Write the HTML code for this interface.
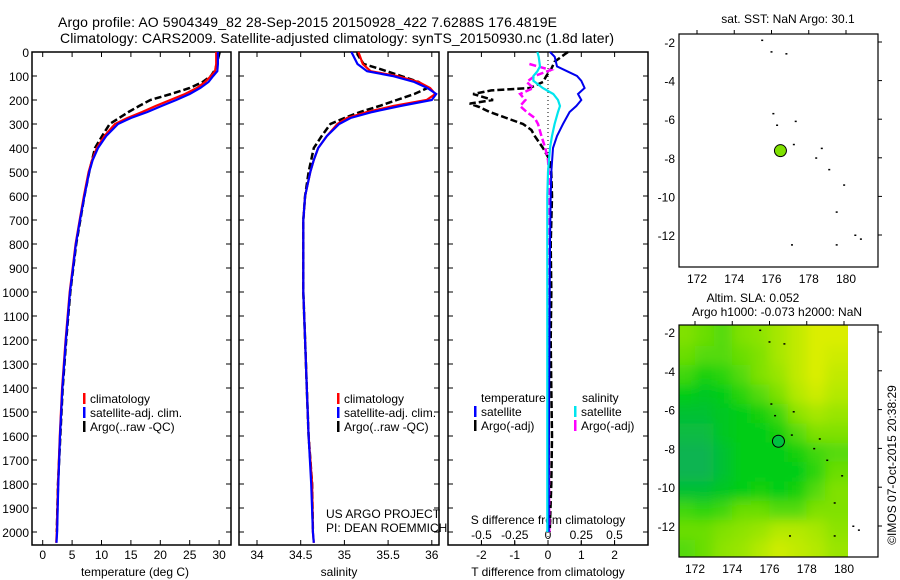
<!DOCTYPE html>
<html><head><meta charset="utf-8"><style>
body{margin:0;background:#fff}
svg{display:block;font-family:"Liberation Sans",sans-serif}
</style></head><body>
<svg id="c" width="900" height="580" viewBox="0 0 900 580"></svg>
<script>
// ---- profile data ----
const depthClim=[0,50,80,100,125,150,175,200,225,250,275,300,350,400,450,500,600,700,800,900,1000,1200,1400,1600,1800,2000,2045];
const tClim=[29.5,29.5,29.3,28.6,27.6,26.2,24.2,21.7,19.2,16.9,14.4,12.3,10.5,9.2,8.4,7.8,7.0,6.3,5.6,5.1,4.6,3.9,3.3,2.9,2.6,2.4,2.3];
const tSat=[29.8,29.8,29.7,29.0,28.2,26.8,25.0,22.7,20.2,17.8,15.0,12.8,10.8,9.4,8.5,7.9,7.1,6.35,5.65,5.15,4.65,3.95,3.35,2.95,2.65,2.45,2.35];
const sClim=[35.16,35.21,35.3,35.6,35.85,35.98,36.04,35.94,35.56,35.26,35.03,34.92,34.8,34.7,34.65,34.61,34.55,34.53,34.53,34.53,34.53,34.55,34.57,34.59,34.63,34.64,34.65];
const sSat=[35.08,35.15,35.26,35.55,35.8,35.95,36.05,36.0,35.64,35.32,35.07,34.94,34.8,34.7,34.65,34.61,34.55,34.53,34.53,34.53,34.53,34.55,34.57,34.59,34.62,34.64,34.65];
const depthArgo=[0,10,50,70,100,125,150,175,200,225,250,275,300,350,400,450,500,600,700,800,1000,1200,1400,1600,1800,2000];
const tArgo=[30.1,30.0,29.6,29.4,28.6,27.2,25.0,21.8,18.3,16.4,14.6,13.0,11.4,10.1,8.9,8.4,7.9,7.1,6.4,5.7,4.7,4.0,3.4,3.0,2.6,2.4];
const sArgo=[35.15,35.15,35.22,35.4,35.65,35.85,35.95,35.8,35.6,35.4,35.18,35.0,34.84,34.74,34.65,34.62,34.59,34.55,34.53,34.53,34.53,34.55,34.57,34.59,34.63,34.64];
const depthDiff=[0,20,60,80,100,120,150,175,200,225,250,300,350,400,500,600,800,1000,1500,2000];
const dTsat=[0.06,0.2,0.27,0.57,0.87,1.0,1.1,0.9,1.0,0.85,0.65,0.45,0.27,0.15,0.1,0.08,0.06,0.05,0.03,0.02];
const dSsat=[-0.08,-0.07,-0.06,-0.08,-0.11,-0.11,-0.04,0.04,0.075,0.09,0.075,0.05,0.03,0.015,0.0,-0.005,-0.005,-0.005,-0.005,-0.005];
const depthDT=[0,10,40,70,100,125,150,160,175,200,215,230,250,275,300,325,350,400,450,500,600,800,1000,1200,1400,1600,1800,2000];
const dTargo=[0.6,0.5,0.2,0.1,-0.05,-0.15,-0.55,-1.7,-2.25,-1.65,-2.35,-2.05,-1.75,-1.25,-0.75,-0.5,-0.4,-0.15,0.05,0.1,0.12,0.08,0.1,0.08,0.1,0.12,0.1,0.05];
const depthDS=[50,75,100,125,150,175,200,225,250,275,300,350,400,450,500,800,1200,1600,2000];
const dSargo=[-0.14,0.02,-0.1,-0.16,-0.11,-0.21,-0.17,-0.21,-0.16,-0.1,-0.075,-0.05,-0.02,0,0.005,0.005,0.005,0.005,0.01];
const depthTicks=[0,100,200,300,400,500,600,700,800,900,1000,1100,1200,1300,1400,1500,1600,1700,1800,1900,2000];
const tTicks=[0,5,10,15,20,25,30];
const sTicks=[34,34.5,35,35.5,36];
const dtTicks=[-2,-1,0,1,2];
const dsTicks=[-0.5,-0.25,0,0.25,0.5];
const dsTickLabels=["-0.5","-0.25","0","0.25","0.5"];
// ---- map data ----
const lonTicks=[172,174,176,178,180];
const latTicks=[-2,-4,-6,-8,-10,-12];
const argoLon=176.48, argoLat=-7.63;
const gridLon0=171, gridLat0=-1.7;
const slaGrid=[
[0.6,0.55,0.5,0.6,0.65,0.75,0.85,0.95,0.95],
[0.55,0.5,0.5,0.55,0.6,0.75,0.85,0.95,0.9],
[0.45,0.35,0.4,0.5,0.6,0.7,0.85,0.95,0.85],
[0.3,0.25,0.3,0.4,0.5,0.6,0.8,0.9,0.8],
[0.2,0.2,0.25,0.3,0.35,0.45,0.65,0.75,0.7],
[0.15,0.15,0.25,0.3,0.3,0.35,0.5,0.6,0.6],
[0.1,0.1,0.2,0.3,0.3,0.3,0.35,0.45,0.5],
[0.1,0.1,0.2,0.3,0.3,0.3,0.3,0.4,0.55],
[0.2,0.2,0.25,0.3,0.35,0.3,0.35,0.5,0.6],
[0.45,0.4,0.45,0.55,0.55,0.5,0.5,0.6,0.6],
[0.55,0.55,0.6,0.65,0.7,0.8,0.8,0.75,0.65],
[0.5,0.55,0.65,0.7,0.8,0.9,0.85,0.8,0.7]];
const coastLon=[175.5,176,176.8,176.1,176.3,177.3,177.2,178.7,178.4,179.1,179.9,179.5,177.1,179.5,180.5,180.8];
const coastLat=[-1.9,-2.5,-2.6,-5.7,-6.3,-6.1,-7.3,-7.5,-8,-8.6,-9.4,-10.8,-12.5,-12.5,-12,-12.2];

const svg=document.getElementById('c');
const NS='http://www.w3.org/2000/svg';
function mk(tag,attrs,parent){const e=document.createElementNS(NS,tag);for(const k in attrs)e.setAttribute(k,attrs[k]);(parent||svg).appendChild(e);return e;}
function txt(s,x,y,anchor,size,parent){const t=mk('text',{x:x,y:y,'text-anchor':anchor||'start','font-size':size||12,fill:'#000'},parent);t.textContent=s;return t;}
const yD=d=>52+d*0.24;

// titles
let t1=txt('Argo profile: AO 5904349_82 28-Sep-2015 20150928_422 7.6288S 176.4819E',58,27,'start',14);
t1.setAttribute('textLength','499');


let t2=txt('Climatology: CARS2009. Satellite-adjusted climatology: synTS_20150930.nc (1.8d later)',60,43,'start',14);
t2.setAttribute('textLength','554');



function panel(name,x0,x1){
  const g=mk('g',{});
  
  
  mk('rect',{x:x0,y:52,width:x1-x0,height:493,fill:'none',stroke:'#000','stroke-width':1.5},g);
  depthTicks.forEach(d=>{const y=yD(d);mk('line',{x1:x0,x2:x0+5,y1:y,y2:y,stroke:'#000'},g);mk('line',{x1:x1-5,x2:x1,y1:y,y2:y,stroke:'#000'},g);});
  return g;
}
function xticks(g,vals,fx,labels,ly){
  vals.forEach((v,i)=>{const x=fx(v);mk('line',{x1:x,x2:x,y1:545,y2:540,stroke:'#000'},g);mk('line',{x1:x,x2:x,y1:52,y2:57,stroke:'#000'},g);
    const l=txt(labels?labels[i]:String(v),x,ly||559,'middle',12,g);});
}
function line(g,name,ds,vs,fx,color,w,dash){
  const pts=ds.map((d,i)=>fx(vs[i]).toFixed(1)+','+yD(d).toFixed(1)).join(' ');
  const p=mk('polyline',{points:pts,fill:'none',stroke:color,'stroke-width':w||2},g);
  if(dash)p.setAttribute('stroke-dasharray',dash);
  
  
  return p;
}
function legend(g,items,x,y){
  items.forEach((it,i)=>{const yy=y+i*14;mk('rect',{x:x,y:yy-10,width:2.5,height:11,fill:it[1]},g);
    const l=txt(it[0],x+7,yy,'start',12,g);
    
    });
}

// y labels
const ya=mk('g',{});


depthTicks.forEach(d=>txt(String(d),29,yD(d)+5,'end',12,ya));

// panel 1 temperature
const fT=v=>42.7+v*5.88;
const p1=panel('temperature-panel',32,231);
xticks(p1,tTicks,fT);
let xl=txt('temperature (deg C)',135,576,'middle',12,p1);


line(p1,'temp-argo-line',depthArgo,tArgo,fT,'#000',2.5,'7,3');
line(p1,'temp-climatology-line',depthClim,tClim,fT,'#f00',2.2);
line(p1,'temp-satellite-line',depthClim,tSat,fT,'#0000ff',2.2);
legend(p1,[['climatology','#f00'],['satellite-adj. clim.','#0000ff'],['Argo(..raw -QC)','#000']],83,403);

// panel 2 salinity
const fS=v=>257+(v-34)*87.4;
const p2=panel('salinity-panel',239,439);
xticks(p2,sTicks,fS);
xl=txt('salinity',339,576,'middle',12,p2);


line(p2,'sal-argo-line',depthArgo,sArgo,fS,'#000',2.5,'7,3');
line(p2,'sal-climatology-line',depthClim,sClim,fS,'#f00',2.2);
line(p2,'sal-satellite-line',depthClim,sSat,fS,'#0000ff',2.2);
legend(p2,[['climatology','#f00'],['satellite-adj. clim.','#0000ff'],['Argo(..raw -QC)','#000']],337,403);
txt('US ARGO PROJECT',326,518,'start',12,p2);
txt('PI: DEAN ROEMMICH',326,532,'start',12,p2);

// panel 3 differences
const fDT=v=>548+v*33.3;
const fDS=v=>548+v*133;
const p3=panel('difference-panel',448,648);
dtTicks.forEach(v=>{const x=fDT(v);mk('line',{x1:x,x2:x,y1:545,y2:540,stroke:'#000'},p3);mk('line',{x1:x,x2:x,y1:52,y2:57,stroke:'#000'},p3);txt(String(v),x,559,'middle',12,p3);});
dsTicks.forEach((v,i)=>{const x=fDS(v);mk('line',{x1:x,x2:x,y1:545,y2:541,stroke:'#000'},p3);txt(dsTickLabels[i],x,539,'middle',12,p3);});
txt('S difference from climatology',548,524,'middle',12,p3);
xl=txt('T difference from climatology',548,576,'middle',12,p3);


mk('line',{x1:548,x2:548,y1:52,y2:545,stroke:'#000','stroke-dasharray':'1,3'},p3);
line(p3,'temp-argo-diff-line',depthDT,dTargo,fDT,'#000',2.5,'7,3');
line(p3,'sal-argo-diff-line',depthDS,dSargo,fDS,'#ff00ff',2.5,'7,3');
line(p3,'temp-satellite-diff-line',depthDiff,dTsat,fDT,'#0000ee',2);
line(p3,'sal-satellite-diff-line',depthDiff,dSsat,fDS,'#00e5ee',2.2);
txt('temperature',481,402,'start',12,p3);
txt('salinity',582,402,'start',12,p3);
legend(p3,[['satellite','#0000ff'],['Argo(-adj)','#000']],474,416);
legend(p3,[['satellite','#00e5ee'],['Argo(-adj)','#ff00ff']],574,416);

// maps
function map(name,top,bot,lon172,lon180,latm2,latm12){
  const g=mk('g',{});
  
  
  const fx=v=>lon172+(v-172)*(lon180-lon172)/8;
  const fy=v=>latm2+(v+2)*(latm12-latm2)/(-10);
  return {g,fx,fy,top,bot};
}
function mapFrame(m){
  const g=m.g;
  mk('rect',{x:679,y:m.top,width:199,height:m.bot-m.top,fill:'none',stroke:'#000','stroke-width':1.2},g);
  lonTicks.forEach(v=>{const x=m.fx(v);mk('line',{x1:x,x2:x,y1:m.top,y2:m.top-4,stroke:'#000'},g);txt(String(v),x,m.bot+16,'middle',12,g);});
  latTicks.forEach(v=>{const y=m.fy(v);mk('line',{x1:878,x2:882,y1:y,y2:y,stroke:'#000'},g);txt(String(v),675,y+5,'end',12,g);});
  coastLon.forEach((lo,i)=>{const x=m.fx(lo),y=m.fy(coastLat[i]);if(x<878&&y>m.top){const c=mk('rect',{x:x-1,y:y-0.5,width:2,height:1.5,fill:'#000'},g);
    
    }});
}
const m1=map('sst-map',34,267,697,846,42,235);
mapFrame(m1);
let mk1=mk('circle',{cx:m1.fx(argoLon),cy:m1.fy(argoLat),r:6,fill:'#7fe000',stroke:'#000','stroke-width':1},m1.g);


txt('sat. SST: NaN Argo: 30.1',788,23,'middle',12,m1.g);

const m2=map('sla-map',325,557,695,844,332,526);
function col(v){const stops=[[0,[16,168,112]],[0.3,[0,205,20]],[0.6,[128,225,0]],[1,[232,240,0]]];
  for(let i=1;i<stops.length;i++){if(v<=stops[i][0]){const a=stops[i-1],b=stops[i];const f=(v-a[0])/(b[0]-a[0]);return 'rgb('+a[1].map((c,j)=>Math.round(c+(b[1][j]-c)*f)).join(',')+')';}}return 'rgb(232,240,0)';}
mk('clipPath',{id:'slaclip'},m2.g).appendChild(document.createElementNS(NS,'rect'));
const cr=m2.g.querySelector('#slaclip rect');cr.setAttribute('x',679);cr.setAttribute('y',325);cr.setAttribute('width',169);cr.setAttribute('height',232);
const defs=mk('defs',{},m2.g);
const fl=mk('filter',{id:'blur',x:'-0.1',y:'-0.1',width:'1.2',height:'1.2'},defs);
mk('feGaussianBlur',{stdDeviation:6},fl);
const hg=mk('g',{'clip-path':'url(#slaclip)'},m2.g);
mk('rect',{x:679,y:325,width:169,height:232,fill:col(0.5)},hg);
const hb=mk('g',{filter:'url(#blur)'},hg);
slaGrid.forEach((row,r)=>row.forEach((v,c)=>{
  const x0=m2.fx(gridLon0+c),x1=m2.fx(gridLon0+c+1);
  let y0=m2.fy(gridLat0-r),y1=m2.fy(gridLat0-r-1);
  if(r===0)y0-=20; if(r===slaGrid.length-1)y1+=20;
  const cell=mk('rect',{x:c===0?x0-20:x0,y:y0,width:(x1-x0)+(c===0?20:0)+(c===row.length-1?20:0)+0.5,height:y1-y0+0.5,fill:col(v)},hb);
  
  
}));
mapFrame(m2);
let mk2=mk('circle',{cx:m2.fx(argoLon),cy:m2.fy(argoLat),r:6,fill:'#00c040',stroke:'#000','stroke-width':1},m2.g);


txt('Altim. SLA: 0.052',753,302,'middle',12,m2.g);
txt('Argo h1000: -0.073 h2000: NaN',777,316,'middle',12,m2.g);

let cp=txt('©IMOS 07-Oct-2015 20:38:29',0,0,'middle',12);
cp.setAttribute('transform','translate(896,465) rotate(-90)');


</script>
</body></html>
